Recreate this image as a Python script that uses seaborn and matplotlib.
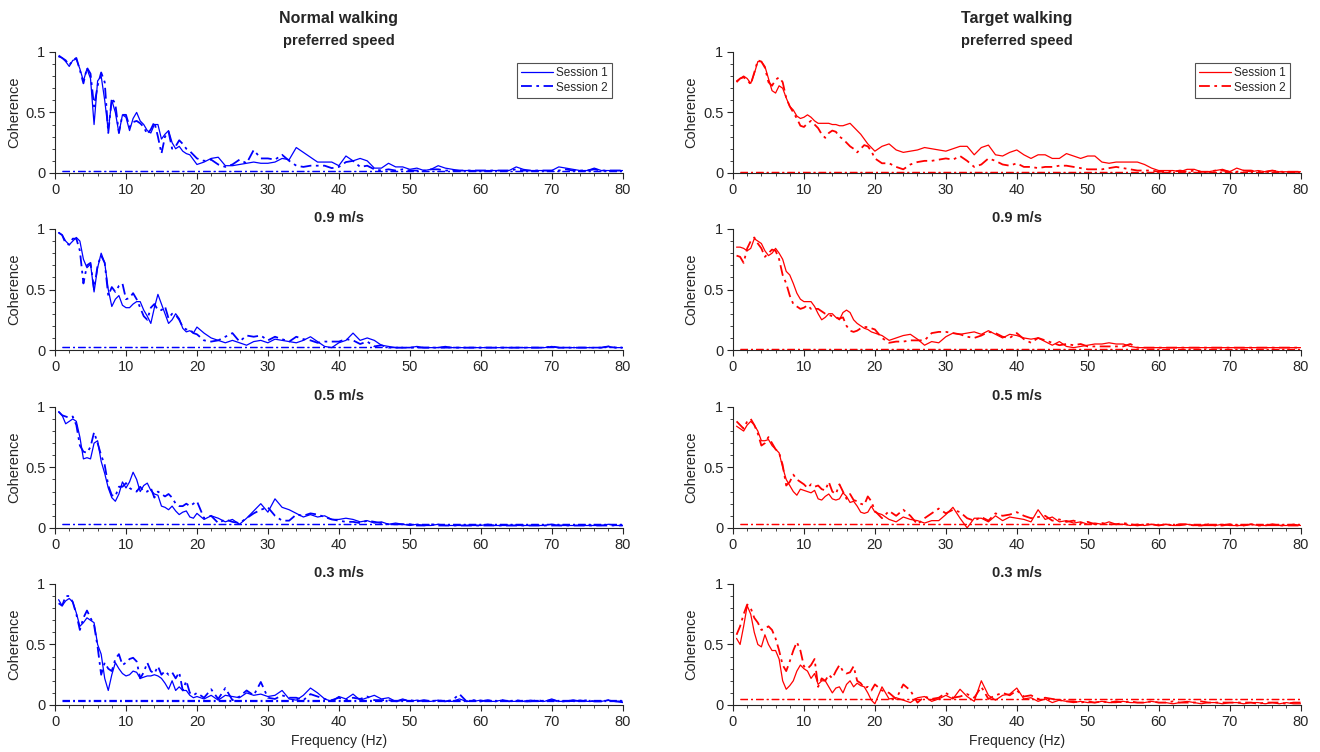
import numpy as np
import matplotlib
matplotlib.use("Agg")
import matplotlib.pyplot as plt
import seaborn as sns
from matplotlib.ticker import MultipleLocator

# frequency grid: 0.5 Hz steps up to 20 Hz, then 1 Hz steps up to 80 Hz
freq = [i * 0.5 for i in range(1, 41)] + list(range(21, 81))

# ---- Normal walking ----
normal_pref_s1 = [0.96, 0.95, 0.92, 0.88, 0.93, 0.94, 0.86, 0.76, 0.86, 0.78, 0.40, 0.76, 0.80, 0.60, 0.35, 0.60, 0.50, 0.33, 0.48, 0.46,
                  0.35, 0.45, 0.50, 0.43, 0.40, 0.35, 0.33, 0.40, 0.40, 0.28, 0.32, 0.35, 0.25, 0.20, 0.22, 0.18, 0.16, 0.15, 0.11, 0.07,
                  0.09, 0.12, 0.13, 0.06, 0.06, 0.07, 0.08, 0.09, 0.08, 0.08, 0.09, 0.12, 0.11, 0.21, 0.17, 0.13, 0.09, 0.09, 0.09, 0.06,
                  0.14, 0.10, 0.12, 0.10, 0.04, 0.04, 0.08, 0.05, 0.05, 0.03, 0.04, 0.02, 0.03, 0.06, 0.04, 0.03, 0.02, 0.02, 0.02, 0.02,
                  0.02, 0.02, 0.02, 0.02, 0.05, 0.03, 0.02, 0.02, 0.02, 0.02, 0.05, 0.04, 0.03, 0.02, 0.02, 0.04, 0.02, 0.02, 0.02, 0.02]
normal_pref_s2 = [0.97, 0.95, 0.93, 0.89, 0.93, 0.95, 0.85, 0.74, 0.87, 0.82, 0.55, 0.72, 0.83, 0.75, 0.33, 0.62, 0.57, 0.33, 0.48, 0.48,
                  0.38, 0.42, 0.43, 0.41, 0.38, 0.32, 0.36, 0.42, 0.30, 0.16, 0.30, 0.34, 0.20, 0.22, 0.27, 0.24, 0.20, 0.18, 0.15, 0.12,
                  0.10, 0.11, 0.07, 0.05, 0.07, 0.11, 0.08, 0.19, 0.12, 0.12, 0.11, 0.15, 0.10, 0.06, 0.05, 0.06, 0.06, 0.06, 0.04, 0.05,
                  0.09, 0.10, 0.05, 0.06, 0.03, 0.02, 0.03, 0.02, 0.03, 0.02, 0.02, 0.02, 0.03, 0.03, 0.02, 0.02, 0.02, 0.02, 0.02, 0.02,
                  0.02, 0.02, 0.02, 0.02, 0.03, 0.02, 0.02, 0.02, 0.02, 0.02, 0.02, 0.03, 0.02, 0.02, 0.02, 0.03, 0.02, 0.02, 0.02, 0.02]

normal_09_s1 = [0.97, 0.95, 0.90, 0.87, 0.90, 0.93, 0.90, 0.75, 0.68, 0.71, 0.48, 0.68, 0.80, 0.72, 0.50, 0.36, 0.42, 0.45, 0.37, 0.35,
                0.35, 0.38, 0.40, 0.40, 0.33, 0.28, 0.22, 0.35, 0.46, 0.38, 0.30, 0.22, 0.25, 0.30, 0.26, 0.18, 0.15, 0.16, 0.14, 0.19,
                0.14, 0.10, 0.08, 0.06, 0.08, 0.06, 0.04, 0.07, 0.08, 0.06, 0.09, 0.08, 0.07, 0.06, 0.08, 0.11, 0.07, 0.03, 0.02, 0.06,
                0.08, 0.14, 0.08, 0.10, 0.08, 0.04, 0.03, 0.02, 0.02, 0.02, 0.03, 0.02, 0.02, 0.02, 0.03, 0.02, 0.02, 0.02, 0.02, 0.02,
                0.02, 0.02, 0.02, 0.02, 0.02, 0.02, 0.02, 0.02, 0.02, 0.03, 0.02, 0.02, 0.02, 0.02, 0.02, 0.02, 0.02, 0.03, 0.02, 0.02]
normal_09_s2 = [0.97, 0.95, 0.88, 0.87, 0.92, 0.92, 0.82, 0.55, 0.70, 0.72, 0.50, 0.70, 0.78, 0.72, 0.45, 0.52, 0.48, 0.53, 0.55, 0.42,
                0.43, 0.47, 0.42, 0.35, 0.28, 0.25, 0.35, 0.38, 0.33, 0.33, 0.36, 0.26, 0.30, 0.29, 0.25, 0.19, 0.17, 0.17, 0.14, 0.13,
                0.08, 0.07, 0.08, 0.11, 0.14, 0.07, 0.12, 0.11, 0.12, 0.08, 0.11, 0.09, 0.07, 0.11, 0.09, 0.08, 0.06, 0.07, 0.07, 0.07,
                0.09, 0.08, 0.05, 0.07, 0.03, 0.04, 0.02, 0.02, 0.02, 0.02, 0.02, 0.02, 0.02, 0.02, 0.02, 0.02, 0.02, 0.02, 0.02, 0.02,
                0.02, 0.02, 0.02, 0.02, 0.02, 0.02, 0.02, 0.02, 0.02, 0.03, 0.02, 0.02, 0.02, 0.02, 0.02, 0.02, 0.02, 0.03, 0.02, 0.02]

normal_05_s1 = [0.96, 0.93, 0.86, 0.88, 0.90, 0.88, 0.75, 0.57, 0.58, 0.57, 0.70, 0.72, 0.55, 0.45, 0.33, 0.25, 0.22, 0.28, 0.38, 0.33,
                0.38, 0.46, 0.40, 0.30, 0.35, 0.37, 0.31, 0.28, 0.27, 0.18, 0.17, 0.15, 0.18, 0.14, 0.11, 0.13, 0.14, 0.09, 0.08, 0.12,
                0.07, 0.10, 0.08, 0.05, 0.07, 0.03, 0.08, 0.14, 0.20, 0.13, 0.24, 0.17, 0.15, 0.12, 0.09, 0.11, 0.09, 0.10, 0.07, 0.07,
                0.08, 0.07, 0.05, 0.06, 0.04, 0.05, 0.03, 0.04, 0.03, 0.02, 0.03, 0.02, 0.02, 0.03, 0.02, 0.02, 0.02, 0.02, 0.02, 0.02,
                0.03, 0.02, 0.02, 0.02, 0.02, 0.02, 0.02, 0.02, 0.02, 0.03, 0.02, 0.02, 0.02, 0.02, 0.02, 0.02, 0.02, 0.03, 0.02, 0.02]
normal_05_s2 = [0.96, 0.93, 0.92, 0.91, 0.92, 0.85, 0.68, 0.63, 0.62, 0.67, 0.79, 0.70, 0.60, 0.52, 0.35, 0.27, 0.26, 0.34, 0.34, 0.37,
                0.33, 0.31, 0.30, 0.34, 0.30, 0.30, 0.33, 0.25, 0.30, 0.28, 0.26, 0.28, 0.25, 0.20, 0.18, 0.18, 0.20, 0.18, 0.20, 0.22,
                0.08, 0.10, 0.04, 0.07, 0.05, 0.04, 0.08, 0.12, 0.15, 0.17, 0.10, 0.06, 0.06, 0.11, 0.10, 0.12, 0.11, 0.09, 0.07, 0.06,
                0.05, 0.05, 0.04, 0.06, 0.05, 0.04, 0.03, 0.03, 0.03, 0.03, 0.02, 0.02, 0.03, 0.02, 0.02, 0.02, 0.02, 0.02, 0.02, 0.02,
                0.02, 0.02, 0.02, 0.02, 0.02, 0.02, 0.02, 0.02, 0.02, 0.02, 0.02, 0.02, 0.02, 0.02, 0.02, 0.02, 0.02, 0.02, 0.02, 0.02]

normal_03_s1 = [0.87, 0.82, 0.86, 0.88, 0.85, 0.76, 0.65, 0.68, 0.72, 0.70, 0.68, 0.50, 0.42, 0.22, 0.12, 0.25, 0.35, 0.30, 0.26, 0.24,
                0.25, 0.28, 0.27, 0.22, 0.23, 0.24, 0.24, 0.25, 0.24, 0.22, 0.18, 0.13, 0.20, 0.12, 0.15, 0.12, 0.12, 0.08, 0.06, 0.07,
                0.05, 0.08, 0.04, 0.08, 0.07, 0.06, 0.10, 0.08, 0.09, 0.07, 0.08, 0.12, 0.05, 0.04, 0.08, 0.14, 0.10, 0.05, 0.03, 0.07,
                0.05, 0.09, 0.04, 0.06, 0.08, 0.05, 0.06, 0.03, 0.05, 0.03, 0.04, 0.03, 0.03, 0.04, 0.03, 0.03, 0.05, 0.03, 0.03, 0.04,
                0.03, 0.03, 0.04, 0.03, 0.03, 0.03, 0.04, 0.03, 0.03, 0.05, 0.03, 0.03, 0.03, 0.04, 0.03, 0.03, 0.03, 0.04, 0.03, 0.02]
normal_03_s2 = [0.84, 0.82, 0.90, 0.90, 0.85, 0.75, 0.62, 0.72, 0.78, 0.72, 0.66, 0.48, 0.25, 0.35, 0.30, 0.28, 0.38, 0.42, 0.33, 0.35,
                0.38, 0.39, 0.36, 0.22, 0.27, 0.35, 0.28, 0.26, 0.32, 0.25, 0.28, 0.25, 0.27, 0.22, 0.27, 0.12, 0.20, 0.10, 0.08, 0.10,
                0.06, 0.13, 0.05, 0.14, 0.04, 0.07, 0.12, 0.08, 0.19, 0.06, 0.05, 0.08, 0.06, 0.06, 0.04, 0.09, 0.07, 0.05, 0.04, 0.06,
                0.04, 0.06, 0.05, 0.07, 0.04, 0.04, 0.04, 0.03, 0.04, 0.04, 0.03, 0.04, 0.03, 0.04, 0.03, 0.04, 0.09, 0.03, 0.04, 0.03,
                0.04, 0.03, 0.04, 0.03, 0.04, 0.03, 0.03, 0.04, 0.03, 0.04, 0.03, 0.03, 0.04, 0.03, 0.04, 0.03, 0.03, 0.04, 0.03, 0.03]

# ---- Target walking ----
target_pref_s1 = [0.76, 0.78, 0.80, 0.78, 0.74, 0.82, 0.92, 0.92, 0.88, 0.78, 0.68, 0.66, 0.72, 0.70, 0.62, 0.55, 0.52, 0.47, 0.45, 0.46,
                  0.48, 0.46, 0.43, 0.41, 0.41, 0.41, 0.41, 0.40, 0.40, 0.39, 0.39, 0.40, 0.41, 0.38, 0.35, 0.32, 0.28, 0.24, 0.21, 0.18,
                  0.22, 0.24, 0.19, 0.17, 0.18, 0.19, 0.21, 0.20, 0.19, 0.18, 0.20, 0.22, 0.22, 0.15, 0.21, 0.23, 0.15, 0.14, 0.17, 0.19,
                  0.15, 0.12, 0.15, 0.15, 0.12, 0.12, 0.16, 0.14, 0.12, 0.14, 0.14, 0.09, 0.08, 0.09, 0.09, 0.09, 0.09, 0.07, 0.04, 0.02,
                  0.02, 0.02, 0.01, 0.03, 0.03, 0.01, 0.01, 0.02, 0.03, 0.01, 0.04, 0.02, 0.01, 0.02, 0.01, 0.02, 0.01, 0.01, 0.01, 0.01]
target_pref_s2 = [0.75, 0.78, 0.79, 0.77, 0.73, 0.83, 0.93, 0.92, 0.87, 0.75, 0.72, 0.77, 0.79, 0.75, 0.62, 0.55, 0.50, 0.45, 0.39, 0.38,
                  0.41, 0.43, 0.40, 0.37, 0.32, 0.29, 0.33, 0.35, 0.34, 0.30, 0.28, 0.25, 0.22, 0.20, 0.17, 0.20, 0.23, 0.22, 0.18, 0.12,
                  0.08, 0.08, 0.05, 0.03, 0.07, 0.09, 0.10, 0.10, 0.11, 0.12, 0.11, 0.14, 0.10, 0.05, 0.07, 0.12, 0.10, 0.07, 0.06, 0.08,
                  0.05, 0.05, 0.04, 0.05, 0.05, 0.06, 0.06, 0.05, 0.04, 0.03, 0.03, 0.03, 0.04, 0.05, 0.04, 0.03, 0.02, 0.02, 0.02, 0.01,
                  0.01, 0.01, 0.02, 0.01, 0.02, 0.01, 0.01, 0.02, 0.02, 0.01, 0.01, 0.02, 0.02, 0.01, 0.01, 0.02, 0.01, 0.01, 0.01, 0.01]

target_09_s1 = [0.85, 0.85, 0.84, 0.82, 0.84, 0.92, 0.90, 0.88, 0.82, 0.78, 0.80, 0.84, 0.80, 0.75, 0.65, 0.62, 0.55, 0.47, 0.42, 0.40,
                0.40, 0.40, 0.36, 0.30, 0.25, 0.27, 0.30, 0.30, 0.27, 0.25, 0.31, 0.33, 0.31, 0.25, 0.22, 0.20, 0.18, 0.17, 0.15, 0.14,
                0.12, 0.08, 0.10, 0.12, 0.13, 0.09, 0.04, 0.07, 0.06, 0.11, 0.14, 0.13, 0.14, 0.15, 0.13, 0.16, 0.13, 0.10, 0.13, 0.12,
                0.10, 0.09, 0.10, 0.07, 0.04, 0.07, 0.03, 0.02, 0.03, 0.04, 0.05, 0.05, 0.06, 0.05, 0.05, 0.03, 0.02, 0.02, 0.02, 0.02,
                0.02, 0.02, 0.02, 0.02, 0.02, 0.02, 0.02, 0.02, 0.02, 0.02, 0.02, 0.02, 0.02, 0.02, 0.02, 0.02, 0.02, 0.02, 0.02, 0.02]
target_09_s2 = [0.78, 0.77, 0.72, 0.84, 0.90, 0.93, 0.88, 0.84, 0.77, 0.80, 0.83, 0.82, 0.75, 0.62, 0.55, 0.45, 0.38, 0.36, 0.34, 0.35,
                0.37, 0.34, 0.34, 0.34, 0.32, 0.30, 0.29, 0.28, 0.27, 0.26, 0.27, 0.20, 0.16, 0.15, 0.16, 0.18, 0.19, 0.19, 0.18, 0.17,
                0.10, 0.06, 0.07, 0.07, 0.08, 0.08, 0.08, 0.14, 0.15, 0.15, 0.14, 0.13, 0.11, 0.10, 0.12, 0.15, 0.14, 0.11, 0.10, 0.14,
                0.09, 0.06, 0.10, 0.08, 0.06, 0.04, 0.05, 0.04, 0.05, 0.03, 0.03, 0.03, 0.03, 0.03, 0.03, 0.05, 0.02, 0.02, 0.02, 0.02,
                0.02, 0.02, 0.02, 0.02, 0.02, 0.02, 0.02, 0.02, 0.02, 0.02, 0.02, 0.02, 0.02, 0.02, 0.02, 0.02, 0.02, 0.02, 0.02, 0.02]

target_05_s1 = [0.84, 0.82, 0.80, 0.85, 0.88, 0.85, 0.80, 0.72, 0.72, 0.73, 0.68, 0.65, 0.62, 0.50, 0.40, 0.35, 0.30, 0.27, 0.32, 0.31,
                0.30, 0.29, 0.31, 0.24, 0.23, 0.26, 0.28, 0.24, 0.23, 0.24, 0.29, 0.26, 0.21, 0.22, 0.18, 0.13, 0.12, 0.13, 0.18, 0.13,
                0.11, 0.07, 0.05, 0.09, 0.07, 0.06, 0.04, 0.06, 0.06, 0.11, 0.17, 0.08, 0.00, 0.08, 0.08, 0.05, 0.10, 0.06, 0.09, 0.08,
                0.07, 0.05, 0.15, 0.07, 0.09, 0.05, 0.06, 0.04, 0.05, 0.03, 0.04, 0.03, 0.05, 0.03, 0.03, 0.02, 0.03, 0.02, 0.03, 0.02,
                0.03, 0.02, 0.02, 0.03, 0.02, 0.02, 0.02, 0.02, 0.03, 0.02, 0.02, 0.02, 0.03, 0.02, 0.02, 0.02, 0.02, 0.02, 0.03, 0.02]
target_05_s2 = [0.88, 0.85, 0.82, 0.88, 0.90, 0.85, 0.78, 0.68, 0.70, 0.75, 0.70, 0.65, 0.62, 0.52, 0.35, 0.38, 0.44, 0.40, 0.38, 0.36,
                0.33, 0.36, 0.34, 0.35, 0.32, 0.31, 0.38, 0.30, 0.28, 0.36, 0.30, 0.24, 0.28, 0.23, 0.22, 0.20, 0.19, 0.26, 0.22, 0.14,
                0.08, 0.14, 0.10, 0.15, 0.10, 0.03, 0.08, 0.12, 0.16, 0.12, 0.15, 0.13, 0.08, 0.06, 0.09, 0.06, 0.12, 0.10, 0.11, 0.13,
                0.10, 0.08, 0.09, 0.10, 0.06, 0.07, 0.05, 0.06, 0.04, 0.05, 0.03, 0.04, 0.03, 0.03, 0.04, 0.03, 0.02, 0.03, 0.03, 0.02,
                0.03, 0.02, 0.03, 0.03, 0.02, 0.02, 0.03, 0.02, 0.02, 0.03, 0.02, 0.02, 0.03, 0.02, 0.02, 0.03, 0.02, 0.02, 0.02, 0.02]

target_03_s1 = [0.55, 0.50, 0.65, 0.82, 0.75, 0.60, 0.50, 0.48, 0.58, 0.50, 0.45, 0.45, 0.38, 0.20, 0.13, 0.16, 0.20, 0.28, 0.33, 0.30,
                0.28, 0.22, 0.26, 0.17, 0.20, 0.20, 0.15, 0.10, 0.14, 0.15, 0.10, 0.17, 0.20, 0.15, 0.18, 0.16, 0.15, 0.10, 0.04, 0.01,
                0.15, 0.05, 0.06, 0.04, 0.02, 0.06, 0.07, 0.03, 0.05, 0.08, 0.05, 0.13, 0.07, 0.03, 0.20, 0.08, 0.04, 0.08, 0.09, 0.14,
                0.05, 0.06, 0.03, 0.05, 0.02, 0.04, 0.03, 0.02, 0.03, 0.02, 0.02, 0.03, 0.02, 0.02, 0.03, 0.02, 0.02, 0.02, 0.03, 0.02,
                0.02, 0.01, 0.02, 0.03, 0.02, 0.01, 0.02, 0.02, 0.01, 0.02, 0.02, 0.01, 0.02, 0.02, 0.01, 0.02, 0.01, 0.02, 0.01, 0.01]
target_03_s2 = [0.58, 0.65, 0.75, 0.83, 0.80, 0.72, 0.68, 0.62, 0.63, 0.65, 0.62, 0.55, 0.45, 0.33, 0.28, 0.36, 0.45, 0.52, 0.45, 0.32,
                0.30, 0.33, 0.38, 0.15, 0.22, 0.20, 0.25, 0.22, 0.28, 0.33, 0.28, 0.26, 0.27, 0.32, 0.20, 0.18, 0.14, 0.15, 0.12, 0.17,
                0.12, 0.10, 0.05, 0.17, 0.12, 0.02, 0.07, 0.05, 0.06, 0.10, 0.06, 0.07, 0.09, 0.06, 0.15, 0.05, 0.08, 0.10, 0.08, 0.12,
                0.07, 0.08, 0.05, 0.06, 0.05, 0.04, 0.03, 0.03, 0.02, 0.03, 0.02, 0.03, 0.02, 0.03, 0.02, 0.03, 0.02, 0.02, 0.03, 0.02,
                0.02, 0.03, 0.02, 0.02, 0.02, 0.03, 0.02, 0.02, 0.02, 0.02, 0.02, 0.02, 0.02, 0.01, 0.02, 0.02, 0.02, 0.01, 0.02, 0.02]

# significance thresholds (session 1, session 2) per speed
normal_thresh = [(0.02, 0.02), (0.025, 0.025), (0.03, 0.03), (0.035, 0.045)]
target_thresh = [(0.01, 0.01), (0.01, 0.01), (0.03, 0.03), (0.05, 0.05)]

speed_titles = ["preferred speed", "0.9 m/s", "0.5 m/s", "0.3 m/s"]
column_titles = ["Normal walking", "Target walking"]
column_colors = ["#0000FF", "#FF0000"]

normal_data = [(normal_pref_s1, normal_pref_s2), (normal_09_s1, normal_09_s2),
               (normal_05_s1, normal_05_s2), (normal_03_s1, normal_03_s2)]
target_data = [(target_pref_s1, target_pref_s2), (target_09_s1, target_09_s2),
               (target_05_s1, target_05_s2), (target_03_s1, target_03_s2)]

sns.set_style("ticks")
plt.rcParams['font.family'] = ['Liberation Sans', 'DejaVu Sans']
axis_gray = "#262626"

fig = plt.figure(figsize=(13.2, 7.52), dpi=100)

col_left = [0.0417, 0.5553]
ax_width = 0.430
row_bottom = [0.770, 0.5345, 0.298, 0.0625]
ax_height = 0.161

dashdot = (0, (6, 2.5, 1.5, 2.5))
thr_freq = [f for f in freq if f >= 1]

for c, (col_data, col_thr) in enumerate([(normal_data, normal_thresh), (target_data, target_thresh)]):
    color = column_colors[c]
    for r in range(4):
        ax = fig.add_axes([col_left[c], row_bottom[r], ax_width, ax_height])
        s1, s2 = col_data[r]
        sns.lineplot(x=freq, y=s1, ax=ax, color=color, linewidth=0.9, linestyle='-')
        sns.lineplot(x=freq, y=s2, ax=ax, color=color, linewidth=1.3, linestyle=dashdot)
        for thr in col_thr[r]:
            sns.lineplot(x=thr_freq, y=[thr] * len(thr_freq), ax=ax, color=color,
                         linewidth=0.9, linestyle=dashdot)
        lines = ax.get_lines()

        ax.set_xlim(0, 80)
        ax.set_ylim(0, 1)
        ax.xaxis.set_major_locator(MultipleLocator(10))
        ax.xaxis.set_minor_locator(MultipleLocator(2))
        ax.set_yticks([0, 0.5, 1])
        ax.set_yticklabels(["0", "0.5", "1"])
        ax.yaxis.set_minor_locator(MultipleLocator(0.1))
        ax.tick_params(axis='both', which='major', direction='out', length=4, width=0.8,
                       labelsize=10.5, colors=axis_gray, pad=3)
        ax.tick_params(axis='both', which='minor', direction='out', length=2.5, width=0.6,
                       colors=axis_gray)
        for sp in ["left", "bottom"]:
            ax.spines[sp].set_color(axis_gray)
            ax.spines[sp].set_linewidth(0.8)
        sns.despine(ax=ax)

        ax.set_ylabel("Coherence", fontsize=10.5, color=axis_gray, labelpad=3)
        ax.set_xlabel("Frequency (Hz)" if r == 3 else "", fontsize=10, color=axis_gray)
        ax.set_title(speed_titles[r], fontsize=10.5, fontweight='bold', pad=5)

        if r == 0:
            leg = ax.legend([lines[0], lines[1]], ["Session 1", "Session 2"], loc='upper right',
                            fontsize=8.5, frameon=True, fancybox=False, borderaxespad=0.9,
                            handlelength=2.7, handletextpad=0.3, borderpad=0.35,
                            labelspacing=0.25)
            leg.get_frame().set_edgecolor(axis_gray)
            leg.get_frame().set_linewidth(0.8)

    fig.text(col_left[c] + ax_width / 2, 0.975, column_titles[c], ha='center', va='center',
             fontsize=11.5, fontweight='bold')

fig.savefig("out.png", dpi=100)
